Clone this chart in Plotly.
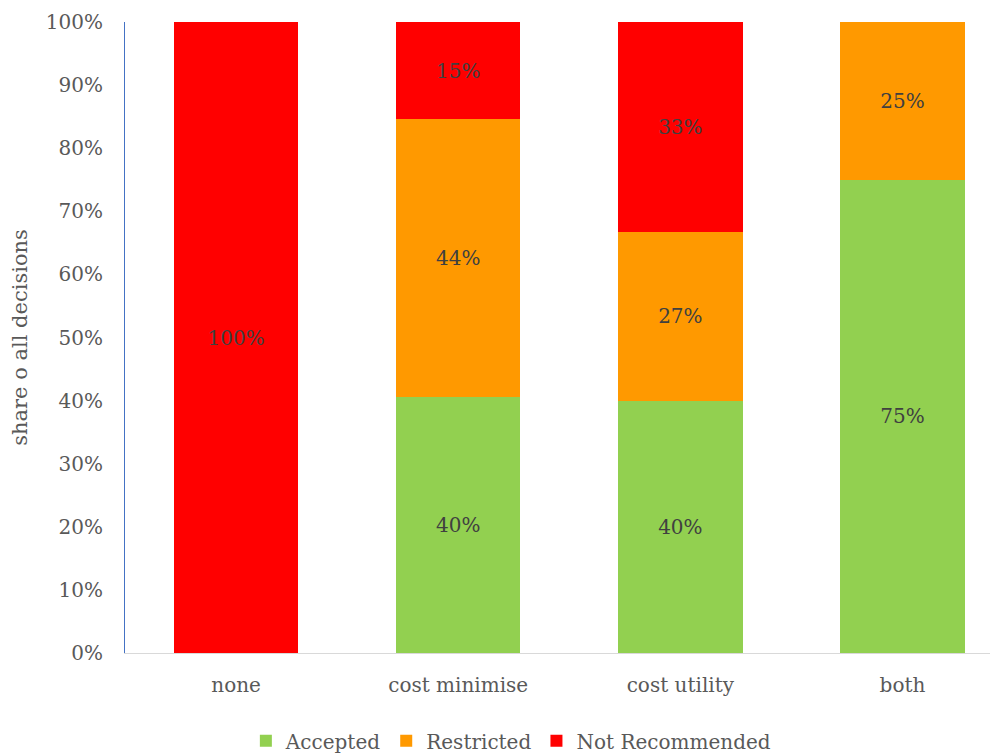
import plotly.graph_objects as go

categories = ["none", "cost minimise", "cost utility", "both"]
accepted = [0, 40.5, 40.0, 75.0]
restricted = [0, 44.1, 26.7, 25.0]
not_recommended = [100.0, 15.4, 33.3, 0]
tick_vals = [0, 10, 20, 30, 40, 50, 60, 70, 80, 90, 100]
tick_text = [f"{v}%" for v in tick_vals]

FONT = "DejaVu Serif"
TXT = "#595959"
FS = 20

def labels(vals):
    return [f"{round(v):.0f}%" if v > 0 else "" for v in vals]

fig = go.Figure()
for name, vals, col in [("Accepted", accepted, "#92D050"),
                        ("Restricted", restricted, "#FF9900"),
                        ("Not Recommended", not_recommended, "#FF0000")]:
    fig.add_trace(go.Bar(
        x=categories, y=vals, name=name, marker=dict(color=col, line=dict(width=0)),
        text=labels(vals), textposition="inside", insidetextanchor="middle",
        textangle=0, constraintext="none",
        textfont=dict(family=FONT, size=FS, color="#404040"),
        hoverinfo="skip",
    ))

fig.update_layout(
    barmode="stack", bargap=0.44,
    width=998, height=754,
    margin=dict(l=117, r=8, t=14, b=109, autoexpand=False),
    plot_bgcolor="white", paper_bgcolor="white",
    font=dict(family=FONT, size=FS, color=TXT),
    showlegend=True,
    legend=dict(orientation="h", x=0.442, xanchor="center", xref="paper",
                y=-0.139, yanchor="middle", font=dict(family=FONT, size=FS, color=TXT),
                itemsizing="constant", traceorder="normal", itemwidth=30),
    yaxis=dict(range=[0, 100], tickvals=tick_vals, ticktext=tick_text, automargin=False,
               showgrid=False, zeroline=False, showline=True, linecolor="#4472C4", linewidth=1,
               ticks="", ticklabelstandoff=17,
               title=dict(text="share o all decisions", standoff=12,
                          font=dict(family=FONT, size=21, color=TXT))),
    xaxis=dict(range=[-0.5, 3.43], showgrid=False, zeroline=False, showline=True, automargin=False,
               tickangle=0, linecolor="#D9D9D9", linewidth=1, ticks="", ticklabelstandoff=14),
)

fig.write_html("out.html")
